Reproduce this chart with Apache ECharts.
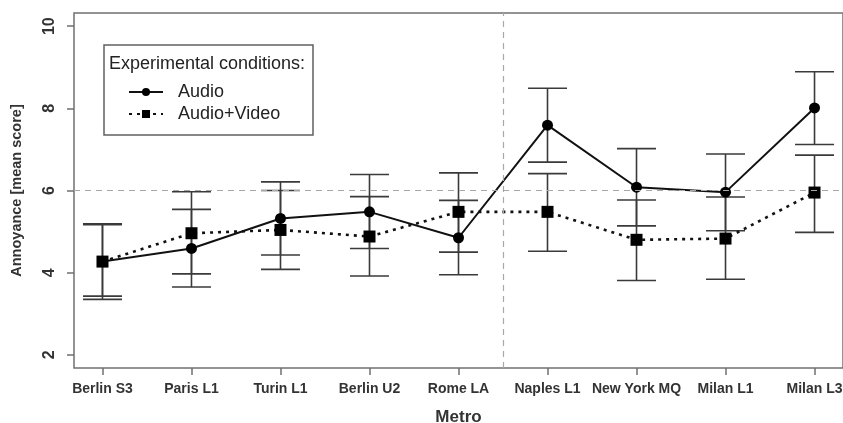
<!DOCTYPE html>
<html>
<head>
<meta charset="utf-8">
<script src="https://cdn.jsdelivr.net/npm/echarts@6/dist/echarts.min.js"></script>
<style>
html,body{margin:0;padding:0;background:#fff;}
#chart{width:843px;height:423px;}
</style>
</head>
<body>
<div id="chart"></div>
<script>
var categories = ['Berlin S3','Paris L1','Turin L1','Berlin U2','Rome LA','Naples L1','New York MQ','Milan L1','Milan L3'];
var audioMean  = [4.27, 4.59, 5.32, 5.48, 4.85, 7.59, 6.08, 5.96, 8.01];
var audioLow   = [3.35, 3.65, 4.43, 4.59, 3.95, 6.69, 5.14, 5.02, 7.12];
var audioHigh  = [5.19, 5.54, 6.21, 6.39, 5.76, 8.49, 7.02, 6.89, 8.89];
var avMean     = [4.27, 4.96, 5.04, 4.88, 5.48, 5.48, 4.80, 4.83, 5.95];
var avLow      = [3.43, 3.97, 4.08, 3.92, 4.50, 4.52, 3.81, 3.84, 4.98];
var avHigh     = [5.17, 5.97, 6.00, 5.85, 6.43, 6.41, 5.77, 5.84, 6.86];
var yTicks = [2, 4, 6, 8, 10];
var xTicks = [1, 2, 3, 4, 5, 6, 7, 8, 9];

var FONT = '"Liberation Sans", Arial, Helvetica, sans-serif';

function pts(arr){ return arr.map(function(v,i){ return [i+1, v]; }); }
function bars(lo, hi){ return lo.map(function(v,i){ return [i+1, v, hi[i]]; }); }

function errRender(params, api){
  var x = api.value(0), lo = api.value(1), hi = api.value(2);
  var a = api.coord([x, hi]), b = api.coord([x, lo]);
  var hw = 19.5;
  var st = {stroke:'#3a3a3a', lineWidth:1.6};
  return {type:'group', children:[
    {type:'line', shape:{x1:a[0], y1:a[1], x2:b[0], y2:b[1]}, style:st},
    {type:'line', shape:{x1:a[0]-hw, y1:a[1], x2:a[0]+hw, y2:a[1]}, style:st},
    {type:'line', shape:{x1:b[0]-hw, y1:b[1], x2:b[0]+hw, y2:b[1]}, style:st}
  ]};
}

var chart = echarts.init(document.getElementById('chart'), null, {renderer:'canvas'});
chart.setOption({
  backgroundColor:'#fff',
  animation:false,
  textStyle:{fontFamily:FONT},
  grid:{left:74, right:0, top:13, bottom:55, show:true, borderColor:'#707070', borderWidth:1.5, backgroundColor:'transparent', containLabel:false, outerBoundsMode:'none'},
  title:{text:'Experimental conditions:', left:109, top:55, textStyle:{fontFamily:FONT, fontSize:18, fontWeight:'normal', color:'#222'}, padding:0},
  legend:{
    left:128, top:83, orient:'vertical', itemGap:4, itemWidth:34, itemHeight:10, padding:0,
    textStyle:{fontFamily:FONT, fontSize:18, color:'#222', padding:[0,0,0,10]},
    data:['Audio','Audio+Video']
  },
  graphic:[{type:'rect', shape:{x:104, y:45, width:209, height:90}, style:{fill:'none', stroke:'#606060', lineWidth:1.5}, z:100}],
  xAxis:{
    type:'value', min:0.68, max:9.32,
    name:'Metro', nameLocation:'middle', nameGap:41,
    nameTextStyle:{fontFamily:FONT, fontSize:17, fontWeight:'bold', color:'#333'},
    axisLine:{show:false},
    axisTick:{show:true, length:7, customValues:xTicks, lineStyle:{color:'#707070', width:1.5}},
    axisLabel:{customValues:xTicks, margin:14, fontFamily:FONT, fontSize:14, fontWeight:'bold', color:'#333',
      formatter:function(v){ return categories[Math.round(v)-1] || ''; }},
    splitLine:{show:false}
  },
  yAxis:{
    type:'value', min:1.68, max:10.32,
    name:'Annoyance [mean score]', nameLocation:'middle', nameGap:50, nameRotate:90,
    nameTextStyle:{fontFamily:FONT, fontSize:14.5, fontWeight:'bold', color:'#333'},
    axisLine:{show:false},
    axisTick:{show:true, length:7, customValues:yTicks, lineStyle:{color:'#707070', width:1.5}},
    axisLabel:{customValues:yTicks, rotate:90, margin:16, fontFamily:FONT, fontSize:16, fontWeight:'bold', color:'#333'},
    splitLine:{show:false}
  },
  series:[
    {type:'custom', name:'errA', renderItem:errRender, data:bars(audioLow, audioHigh), encode:{x:0, y:[1,2]}, z:1, silent:true},
    {type:'custom', name:'errV', renderItem:errRender, data:bars(avLow, avHigh), encode:{x:0, y:[1,2]}, z:1, silent:true},
    {type:'line', name:'Audio', data:pts(audioMean), symbol:'circle', symbolSize:11,
      itemStyle:{color:'#000'}, lineStyle:{color:'#111', width:2, type:'solid'}, z:3,
      markLine:{silent:true, symbol:'none', label:{show:false},
        lineStyle:{color:'#a8a8a8', type:[6,5], width:1.2},
        data:[{xAxis:5.5},{yAxis:6}]}
    },
    {type:'line', name:'Audio+Video', data:pts(avMean), symbol:'rect', symbolSize:12,
      itemStyle:{color:'#000'}, lineStyle:{color:'#111', width:2.6, type:[3,5]}, z:3}
  ]
});
</script>
</body>
</html>
